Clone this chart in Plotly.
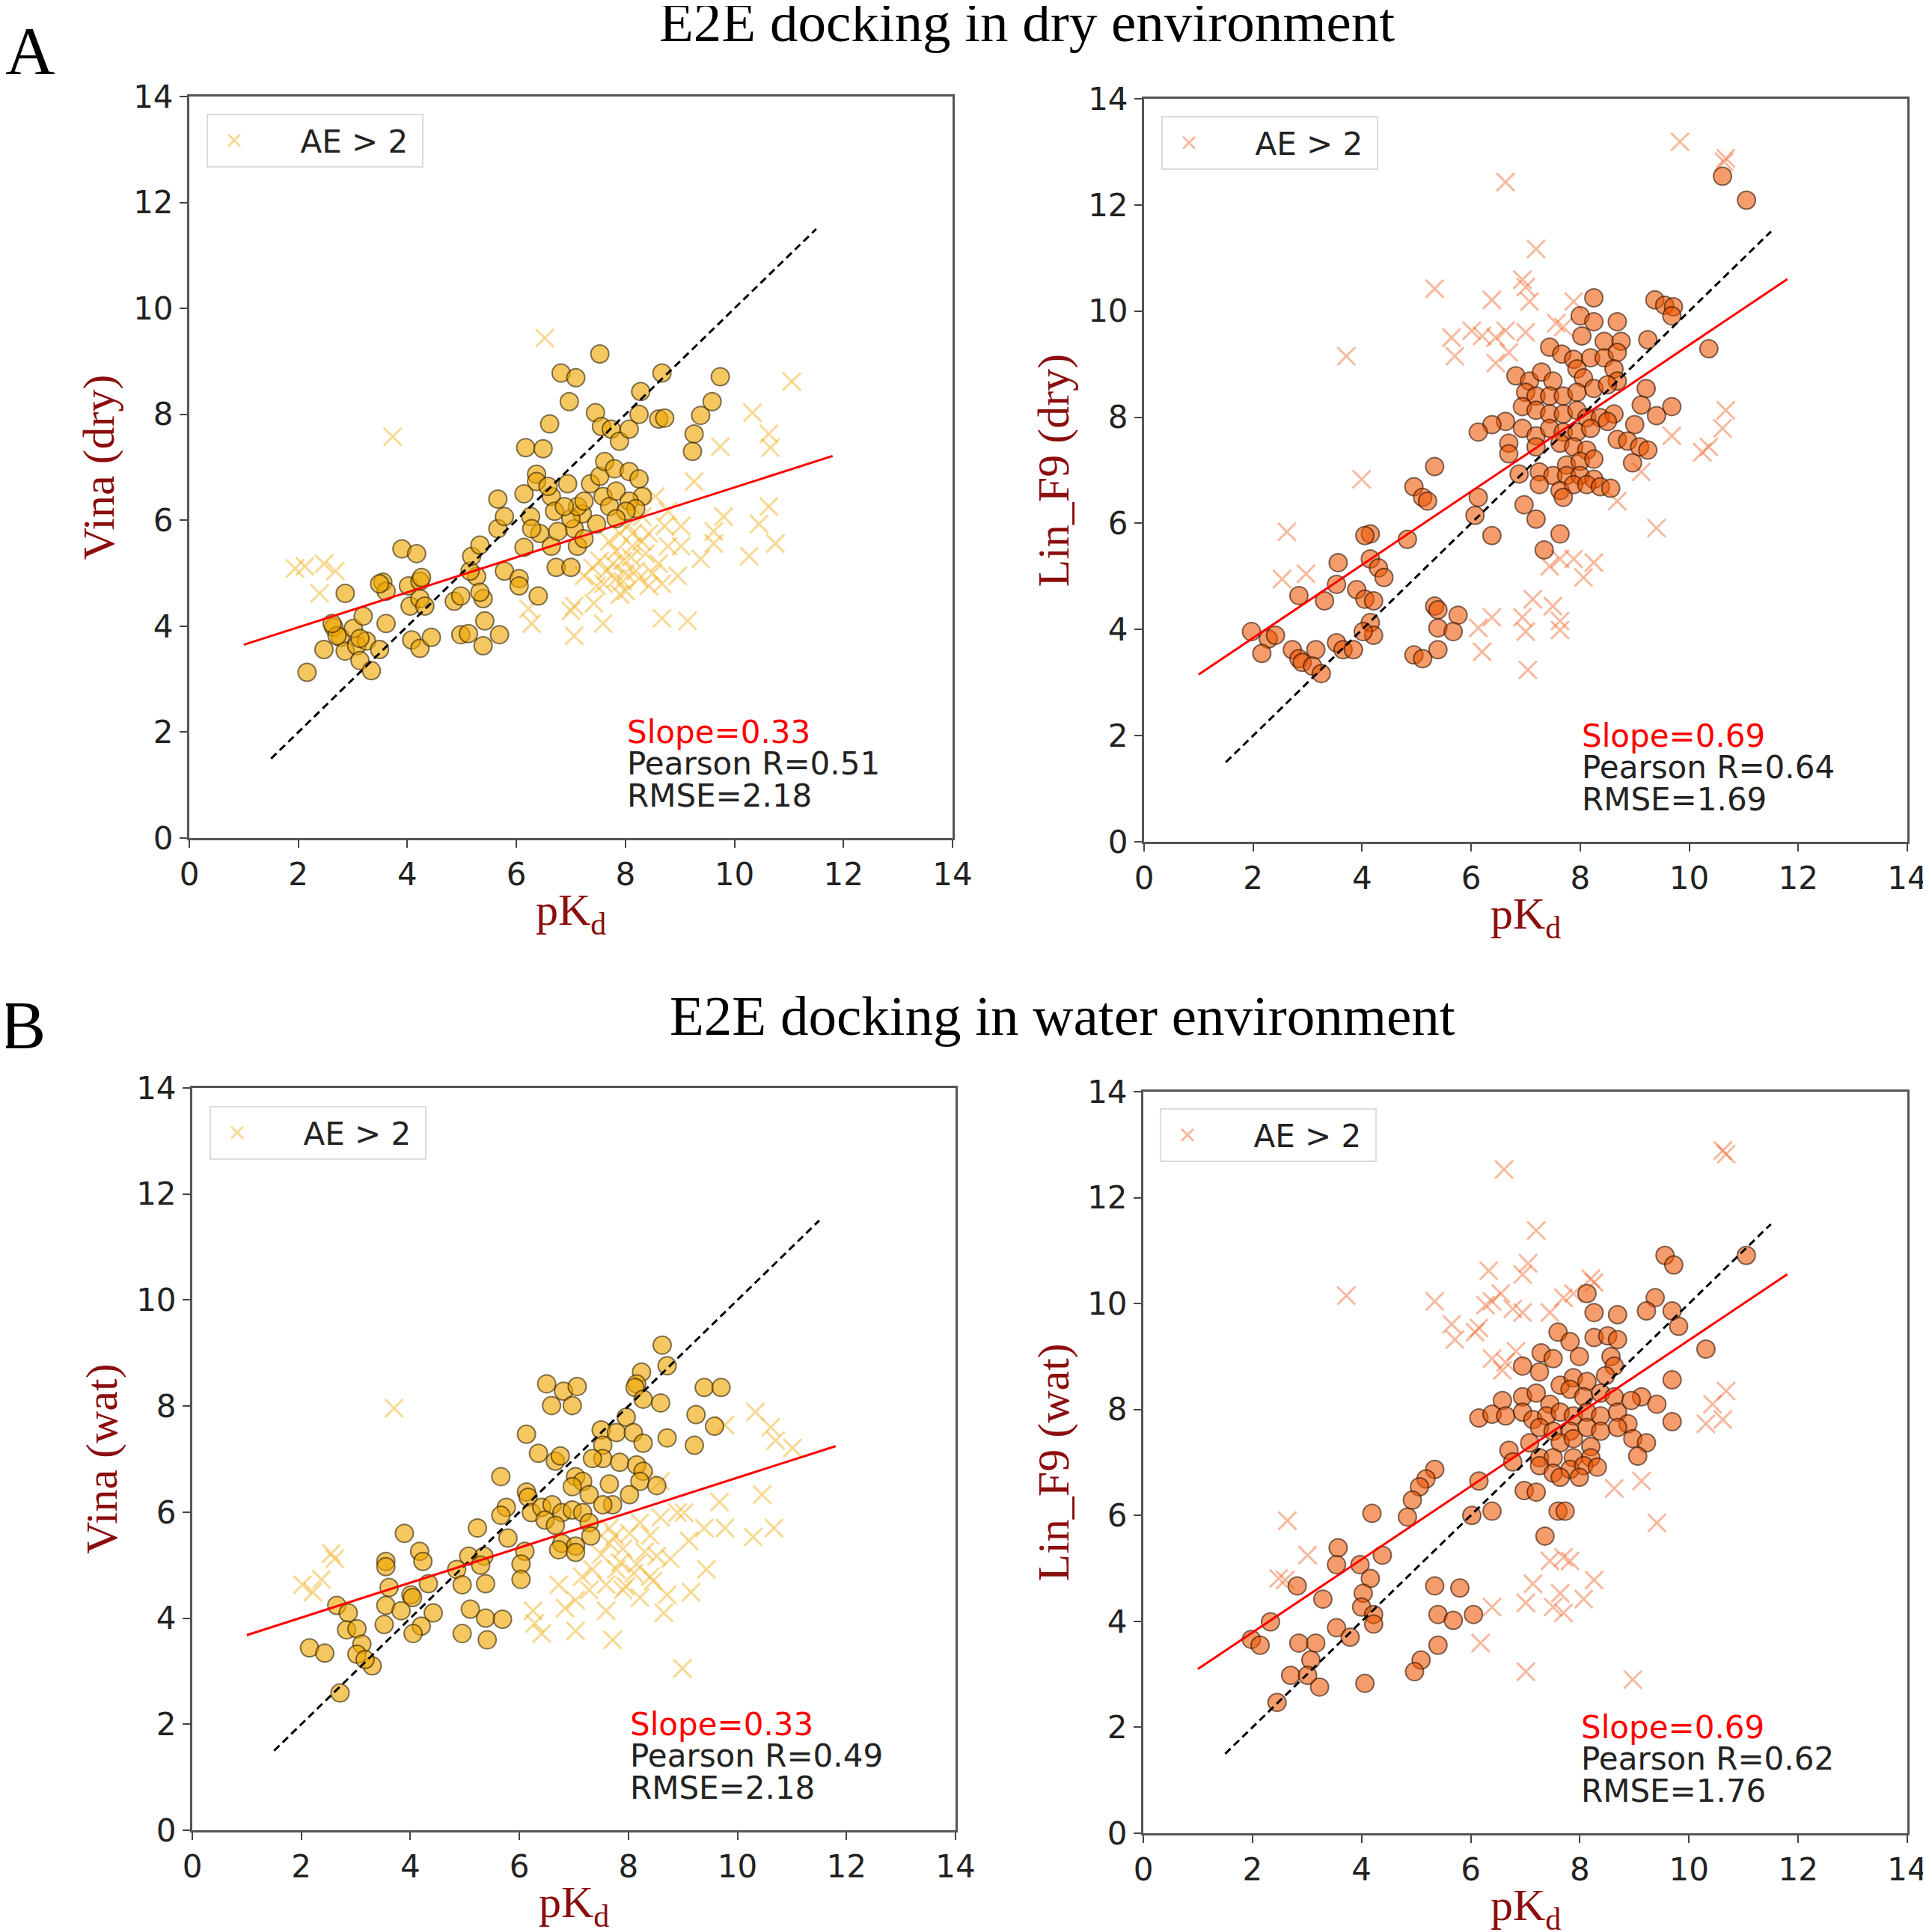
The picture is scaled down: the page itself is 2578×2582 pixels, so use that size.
import plotly.graph_objects as go

# the page body adds an 8px margin, so the figure is drawn 8px in from the corner
PAGE_W, PAGE_H = 2578, 2582
OFF = 8
W, H = PAGE_W - OFF, PAGE_H - OFF

# ---------------- data ----------------
# panel A, Vina (dry): points with AE <= 2 (circles) and AE > 2 (crosses)
vina_dry_x = [2.16, 2.47, 2.65, 2.77, 2.86, 2.86, 3.01, 3.07, 3.13, 3.25, 3.34, 3.49, 3.55, 3.61, 3.61,
              3.90, 4.17, 4.02, 4.23, 4.05, 4.23, 4.08, 4.23, 4.44, 4.32, 4.86, 4.98, 4.98, 5.12, 5.39,
              5.42, 5.39, 5.69, 5.27, 5.15, 5.18, 5.33, 5.78, 6.05, 6.05, 6.40, 5.66, 5.66, 5.78, 6.14,
              6.14, 6.26, 6.37, 6.37, 6.17, 6.49, 6.61, 6.43, 6.64, 6.70, 6.64, 6.73, 7.00, 6.94, 6.97,
              6.82, 7.09, 7.53, 7.45, 7.56, 7.06, 7.12, 7.21, 7.00, 7.36, 7.53, 7.62, 7.80, 7.59, 7.71,
              7.83, 8.07, 8.25, 8.31, 8.07, 7.74, 7.89, 8.07, 8.25, 8.28, 8.67, 8.61, 8.72, 9.74, 9.59,
              9.38, 9.26, 9.23, 8.19, 8.01, 7.83, 7.47, 7.24, 7.12, 6.88, 6.76, 3.49, 3.19, 3.13, 2.71,
              2.62, 4.26, 5.33, 6.28, 6.58, 7.24]
vina_dry_y = [3.13, 3.56, 3.98, 3.79, 4.62, 3.53, 3.96, 3.63, 3.35, 3.72, 3.16, 3.56, 4.83, 4.66, 4.05,
              5.46, 5.37, 4.76, 4.85, 4.38, 4.52, 3.74, 3.58, 3.79, 4.38, 4.47, 4.57, 3.84, 3.86, 4.52,
              4.10, 3.63, 3.84, 4.94, 5.04, 5.32, 5.53, 5.04, 4.90, 4.76, 4.57, 5.84, 6.40, 6.07, 6.50,
              5.49, 6.07, 6.87, 6.73, 7.37, 7.35, 7.82, 5.75, 6.45, 6.17, 5.51, 5.11, 5.11, 6.69, 8.24,
              8.78, 8.69, 9.14, 8.03, 7.77, 5.84, 5.51, 6.12, 6.03, 6.69, 6.83, 7.11, 6.97, 6.45, 6.26,
              6.55, 6.92, 6.78, 6.45, 6.36, 7.72, 7.49, 7.72, 8.00, 8.43, 8.78, 7.91, 7.93, 8.71, 8.24,
              7.98, 7.63, 7.30, 6.22, 6.17, 6.03, 5.93, 5.65, 6.26, 6.26, 5.79, 4.80, 4.19, 3.77, 3.82,
              4.05, 4.92, 4.64, 5.84, 6.64, 6.36]
vina_dry_ae_x = [6.52, 3.73, 11.05, 10.33, 10.63, 10.66, 9.74, 9.26, 10.63, 10.45, 10.75, 10.27, 9.80,
                 9.62, 9.62, 9.38, 9.02, 8.96, 9.14, 8.67, 8.67, 8.43, 8.19, 8.01, 7.83, 7.65, 7.47, 7.24,
                 7.06, 7.06, 7.00, 7.59, 7.42, 6.28, 6.22, 7.83, 8.13, 8.43, 8.72, 9.02, 8.55, 8.78, 8.31,
                 8.13, 8.61, 8.78, 8.37, 7.77, 7.53, 7.95, 8.25, 7.95, 2.12, 2.47, 2.68, 2.39, 1.94, 7.70,
                 8.00, 7.90, 8.10, 7.60, 8.30, 8.50, 7.40, 7.90, 8.05]
vina_dry_ae_y = [9.44, 7.58, 8.62, 8.03, 7.63, 7.37, 7.39, 6.73, 6.26, 5.93, 5.56, 5.32, 6.07, 5.79,
                 5.56, 5.27, 5.51, 4.95, 4.10, 4.15, 4.80, 4.76, 5.04, 4.66, 4.90, 5.04, 4.76, 4.95, 4.38,
                 3.82, 4.29, 4.05, 4.43, 4.05, 4.33, 5.42, 5.51, 5.75, 5.89, 5.89, 6.45, 6.17, 6.07, 5.75,
                 5.18, 5.51, 5.37, 5.18, 5.23, 5.23, 4.90, 4.85, 5.13, 5.18, 5.04, 4.62, 5.09, 5.60, 5.00,
                 4.60, 5.30, 4.80, 5.60, 5.00, 5.10, 5.75, 5.90]

# panel A, Lin_F9 (dry)
linf9_dry_x = [10.61, 11.05, 8.25, 9.37, 9.55, 9.71, 9.68, 8.00, 8.25, 8.68, 8.03, 8.44, 8.75, 9.24,
               10.36, 7.44, 7.66, 7.88, 8.19, 8.44, 8.68, 6.82, 7.07, 7.29, 7.50, 7.94, 8.06, 8.62, 8.68,
               7.00, 7.19, 7.44, 7.69, 7.94, 8.25, 8.50, 9.21, 9.12, 9.68, 9.40, 6.94, 7.19, 7.44, 7.69,
               7.94, 8.12, 8.37, 8.62, 6.63, 6.38, 6.13, 6.94, 7.19, 7.44, 7.69, 7.94, 8.19, 8.50, 9.00,
               8.68, 8.87, 9.09, 9.24, 8.96, 6.69, 6.69, 7.19, 7.63, 7.88, 8.12, 7.75, 8.00, 8.25, 7.25,
               7.50, 7.75, 8.00, 8.25, 7.25, 7.63, 7.88, 8.12, 8.37, 8.56, 7.69, 6.88, 6.13, 5.33, 4.95,
               5.11, 5.20, 6.07, 6.38, 6.97, 7.19, 7.63, 7.34, 4.15, 4.05, 4.83, 3.56, 4.15, 4.30, 4.40,
               3.53, 3.90, 4.05, 4.21, 2.84, 3.31, 4.15, 4.21, 4.02, 5.33, 5.39, 5.76, 5.39, 5.67, 5.39,
               4.95, 5.11, 1.97, 2.28, 2.41, 2.16, 2.72, 2.84, 2.90, 3.15, 3.09, 3.25, 3.53, 3.65, 3.84]
linf9_dry_y = [12.54, 12.09, 10.25, 10.21, 10.11, 10.08, 9.91, 9.91, 9.80, 9.80, 9.53, 9.43, 9.43, 9.46,
               9.29, 9.32, 9.19, 9.09, 9.12, 9.12, 9.22, 8.78, 8.68, 8.85, 8.68, 8.91, 8.74, 8.91, 8.68,
               8.47, 8.40, 8.40, 8.40, 8.47, 8.54, 8.61, 8.54, 8.23, 8.20, 8.03, 8.20, 8.13, 8.06, 8.06,
               8.13, 7.99, 7.99, 8.06, 7.92, 7.86, 7.72, 7.79, 7.65, 7.79, 7.72, 7.72, 7.79, 7.92, 7.86,
               7.58, 7.55, 7.44, 7.38, 7.14, 7.51, 7.31, 7.44, 7.51, 7.44, 7.38, 7.10, 7.17, 7.21, 6.97,
               6.90, 6.90, 6.90, 6.83, 6.73, 6.62, 6.73, 6.73, 6.69, 6.66, 6.49, 6.93, 6.49, 7.07, 6.69,
               6.49, 6.42, 6.15, 5.77, 6.35, 6.08, 5.80, 5.50, 5.80, 5.77, 5.70, 5.26, 5.33, 5.16, 4.98,
               4.85, 4.75, 4.57, 4.54, 4.64, 4.54, 4.13, 3.89, 3.96, 4.44, 4.37, 4.27, 4.03, 3.96, 3.62,
               3.52, 3.45, 3.96, 3.82, 3.89, 3.55, 3.62, 3.45, 3.38, 3.62, 3.31, 3.17, 3.75, 3.62, 3.62]
linf9_dry_ae_x = [9.83, 10.67, 10.64, 6.63, 7.19, 5.33, 6.94, 7.00, 6.38, 7.07, 7.88, 5.64, 5.70, 6.01,
                  6.20, 6.45, 6.63, 7.00, 6.45, 6.69, 3.71, 7.56, 7.69, 10.67, 10.61, 10.36, 10.24, 9.68,
                  9.12, 8.68, 9.40, 3.99, 2.62, 2.53, 2.97, 7.44, 7.63, 7.88, 8.25, 8.06, 7.13, 6.94, 7.00,
                  7.50, 7.63, 7.63, 6.38, 6.13, 6.20, 7.04]
linf9_dry_ae_y = [13.19, 12.88, 12.81, 12.43, 11.17, 10.42, 10.59, 10.45, 10.21, 10.18, 10.18, 9.50,
                  9.15, 9.63, 9.53, 9.50, 9.63, 9.60, 9.02, 9.22, 9.15, 9.77, 9.70, 8.13, 7.79, 7.44,
                  7.34, 7.65, 6.97, 6.42, 5.91, 6.83, 5.84, 4.95, 5.05, 5.19, 5.33, 5.33, 5.26, 4.98,
                  4.57, 4.23, 3.96, 4.44, 4.16, 3.99, 4.23, 4.03, 3.58, 3.24]

# panel B, Vina (wat)
vina_wat_x = [8.62, 8.71, 8.24, 8.15, 8.12, 8.27, 8.59, 6.50, 6.81, 7.06, 6.59, 6.97, 9.39, 9.70, 9.24,
              9.58, 8.71, 9.21, 7.96, 7.50, 7.78, 8.09, 8.27, 6.13, 7.53, 7.53, 7.84, 8.15, 8.27, 8.21,
              8.52, 6.35, 6.66, 6.75, 7.34, 5.66, 7.03, 7.16, 7.65, 6.13, 6.16, 6.97, 7.28, 8.02, 7.71,
              7.53, 5.76, 5.66, 6.22, 6.41, 6.60, 6.78, 6.97, 7.16, 6.47, 6.66, 7.28, 5.23, 5.79, 6.78,
              7.03, 7.31, 6.72, 7.03, 6.10, 6.03, 6.03, 3.89, 4.17, 4.23, 3.55, 3.55, 5.07, 5.35, 5.29,
              4.85, 4.95, 5.38, 4.33, 3.61, 4.01, 4.04, 3.55, 3.83, 4.42, 4.20, 4.05, 3.52, 5.10, 5.38,
              5.69, 4.95, 5.41, 2.65, 2.86, 2.83, 3.02, 3.11, 3.02, 3.30, 3.17, 2.15, 2.43, 2.71]
vina_wat_y = [9.15, 8.76, 8.64, 8.42, 8.35, 8.13, 8.06, 8.42, 8.28, 8.37, 8.01, 8.01, 8.35, 8.35, 7.84,
              7.62, 7.40, 7.26, 7.79, 7.55, 7.50, 7.50, 7.30, 7.47, 7.26, 7.01, 6.94, 6.89, 6.77, 6.58,
              6.50, 7.11, 6.96, 7.06, 7.01, 6.67, 6.67, 6.58, 6.53, 6.38, 6.28, 6.48, 6.33, 6.33, 6.14,
              6.14, 6.09, 5.94, 5.99, 6.09, 6.14, 5.99, 6.04, 5.99, 5.85, 5.75, 5.80, 5.70, 5.51, 5.41,
              5.36, 5.55, 5.29, 5.24, 5.26, 5.02, 4.73, 5.60, 5.26, 5.07, 5.07, 4.97, 5.17, 5.17, 5.00,
              4.92, 4.63, 4.65, 4.65, 4.58, 4.44, 4.39, 4.24, 4.14, 4.10, 3.85, 3.71, 3.88, 4.17, 4.00,
              3.98, 3.71, 3.59, 4.24, 4.10, 3.78, 3.80, 3.51, 3.32, 3.10, 3.22, 3.44, 3.34, 2.59]
vina_wat_ae_x = [3.70, 10.33, 10.61, 10.70, 11.01, 9.77, 10.45, 9.67, 10.67, 10.29, 9.77, 9.39, 9.11,
                 8.90, 8.59, 9.43, 9.15, 8.71, 8.65, 8.40, 8.15, 7.90, 7.65, 7.78, 7.59, 7.34, 7.15, 7.90,
                 8.21, 8.40, 8.52, 8.77, 8.21, 8.02, 7.65, 8.59, 9.02, 7.28, 7.03, 6.72, 7.59, 6.84, 6.25,
                 6.28, 6.41, 7.03, 7.71, 8.99, 2.61, 2.55, 2.37, 2.02, 2.21, 7.85, 8.10, 7.75, 8.30, 7.95,
                 7.50, 8.45]
vina_wat_ae_y = [7.96, 7.89, 7.60, 7.35, 7.21, 7.64, 6.33, 6.19, 5.70, 5.53, 5.70, 5.70, 5.46, 5.99,
                 6.58, 4.92, 4.49, 4.44, 4.10, 4.78, 5.02, 5.31, 5.41, 4.92, 4.63, 4.92, 4.78, 4.53, 4.39,
                 5.56, 5.17, 5.12, 5.80, 5.60, 5.70, 5.90, 5.99, 4.53, 4.34, 4.63, 4.14, 4.19, 4.14, 3.90,
                 3.71, 3.76, 3.59, 3.05, 5.12, 5.22, 4.73, 4.63, 4.49, 5.05, 4.85, 5.55, 5.25, 4.60, 5.20,
                 4.70]

# panel B, Lin_F9 (wat)
linf9_wat_x = [9.56, 9.72, 11.05, 8.13, 8.26, 8.69, 9.38, 9.22, 9.69, 9.81, 10.31, 7.60, 7.82, 8.26,
               8.51, 8.69, 7.29, 7.51, 7.99, 8.57, 6.95, 7.26, 8.63, 9.69, 7.64, 7.88, 8.13, 8.47, 6.95,
               7.20, 7.45, 7.82, 8.07, 8.38, 8.63, 9.13, 9.41, 6.58, 6.15, 6.39, 6.64, 6.95, 7.14, 7.39,
               7.64, 7.88, 8.13, 8.38, 8.69, 8.88, 9.69, 8.94, 7.26, 7.51, 7.82, 8.13, 8.38, 8.69, 7.08,
               7.64, 7.88, 8.20, 8.97, 9.22, 9.06, 6.70, 6.77, 7.26, 7.51, 7.88, 8.20, 7.26, 7.51, 7.82,
               8.07, 8.32, 7.64, 7.99, 5.34, 5.18, 5.06, 4.93, 6.15, 6.98, 7.20, 7.60, 7.73, 6.02, 6.39,
               4.19, 4.84, 7.36, 3.57, 4.38, 3.54, 3.97, 4.16, 4.03, 2.82, 3.29, 4.00, 4.22, 4.22, 3.54,
               3.79, 2.33, 1.98, 2.14, 2.85, 3.16, 3.07, 2.70, 3.01, 3.23, 2.45, 4.06, 5.34, 5.80, 5.40,
               5.68, 6.05, 5.40, 5.09, 4.97]
linf9_wat_y = [10.91, 10.73, 10.91, 10.19, 9.83, 9.79, 10.11, 9.86, 9.86, 9.57, 9.14, 9.46, 9.28, 9.36,
               9.39, 9.32, 9.07, 8.96, 9.00, 9.00, 8.82, 8.71, 8.82, 8.56, 8.46, 8.60, 8.53, 8.64, 8.24,
               8.31, 8.10, 8.38, 8.24, 8.31, 8.24, 8.24, 8.10, 8.17, 7.84, 7.91, 7.88, 7.95, 7.81, 7.88,
               7.95, 7.88, 7.95, 7.88, 7.95, 7.73, 7.77, 8.17, 7.66, 7.59, 7.59, 7.66, 7.59, 7.66, 7.37,
               7.37, 7.45, 7.30, 7.45, 7.37, 7.12, 7.23, 7.01, 7.09, 7.09, 7.09, 7.09, 6.94, 6.80, 6.87,
               6.94, 6.91, 6.72, 6.72, 6.87, 6.69, 6.54, 6.29, 6.65, 6.47, 6.44, 6.08, 6.08, 6.00, 6.08,
               6.04, 5.97, 5.61, 5.39, 5.25, 5.07, 5.07, 4.81, 4.53, 4.67, 4.42, 4.27, 4.13, 3.95, 3.88,
               3.70, 3.99, 3.66, 3.55, 3.59, 3.59, 3.27, 2.98, 2.98, 2.76, 2.47, 2.83, 4.67, 4.63, 4.13,
               4.02, 4.13, 3.55, 3.27, 3.05]
linf9_wat_ae_x = [10.62, 10.68, 6.61, 7.20, 3.72, 5.34, 6.33, 7.05, 6.95, 6.55, 6.39, 6.27, 6.77, 6.95,
                  5.65, 5.71, 6.08, 6.15, 6.39, 6.64, 6.83, 6.58, 7.45, 7.70, 7.88, 8.26, 8.20, 10.68,
                  10.43, 10.62, 10.31, 9.13, 8.63, 9.41, 2.64, 3.01, 2.48, 2.60, 7.45, 7.70, 7.82, 7.64,
                  8.26, 8.07, 7.14, 7.01, 7.51, 7.70, 6.39, 6.18, 7.01, 8.97]
linf9_wat_ae_y = [12.89, 12.82, 12.53, 11.38, 10.15, 10.04, 10.62, 10.76, 10.55, 10.19, 10.04, 9.97,
                  9.90, 9.83, 9.61, 9.32, 9.46, 9.54, 8.96, 8.89, 9.10, 8.74, 9.83, 10.11, 10.19, 10.40,
                  10.47, 8.35, 8.10, 7.81, 7.73, 6.65, 6.51, 5.86, 5.90, 5.25, 4.81, 4.78, 5.14, 5.21,
                  5.14, 4.53, 4.78, 4.42, 4.71, 4.35, 4.27, 4.16, 4.27, 3.59, 3.05, 2.90]

y_titles = ["Vina (dry)", "Lin_F9 (dry)", "Vina (wat)", "Lin_F9 (wat)"]
slopes = [0.33, 0.69, 0.33, 0.69]
intercepts = [3.32, 2.46, 3.35, 2.41]
pearson = [0.51, 0.64, 0.49, 0.62]
rmse = [2.18, 1.69, 2.18, 1.76]
fit_x = [1.0, 11.8]
ident_x = [1.5, 11.5]
tick_vals = [0, 2, 4, 6, 8, 10, 12, 14]

points = [
    (vina_dry_x, vina_dry_y, vina_dry_ae_x, vina_dry_ae_y),
    (linf9_dry_x, linf9_dry_y, linf9_dry_ae_x, linf9_dry_ae_y),
    (vina_wat_x, vina_wat_y, vina_wat_ae_x, vina_wat_ae_y),
    (linf9_wat_x, linf9_wat_y, linf9_wat_ae_x, linf9_wat_ae_y),
]

# ---------------- styling ----------------
# plot boxes in page pixels: left, right, top, bottom
boxes = [(253, 1273, 129, 1120), (1529, 2549, 132, 1125),
         (257, 1277, 1454, 2446), (1528, 2549, 1459, 2450)]
legend_pos = [(276, 152), (1552, 155), (280, 1478), (1550, 1481)]
gold = dict(fill="rgba(238,165,0,0.62)", edge="rgba(45,30,0,0.6)", cross="rgba(242,180,40,0.5)")
orange = dict(fill="rgba(236,84,0,0.58)", edge="rgba(45,15,0,0.6)", cross="rgba(238,100,40,0.45)")
palettes = [gold, orange, gold, orange]

TICK_FONT = dict(family="DejaVu Sans", size=42, color="#222")
SERIF = "Liberation Serif"
LABEL_COLOR = "#8b0d0d"
NBSP = "\u00a0"


def px(x):
    return (x - OFF) / W


def py(y):
    return 1 - (y - OFF) / H


fig = go.Figure()
annotations = []

for i, (xs, ys, ax_, ay_) in enumerate(points):
    n = "" if i == 0 else str(i + 1)
    xa, ya = "x" + n, "y" + n
    pal = palettes[i]
    leg = "legend" + n

    fig.add_trace(go.Scatter(
        x=ax_, y=ay_, mode="markers", xaxis=xa, yaxis=ya, name=NBSP * 4 + "AE > 2" + NBSP, legend=leg,
        marker=dict(symbol="x-thin", size=24, line=dict(width=3, color=pal["cross"])),
    ))
    fig.add_trace(go.Scatter(
        x=xs, y=ys, mode="markers", xaxis=xa, yaxis=ya, showlegend=False,
        marker=dict(symbol="circle", size=24, color=pal["fill"],
                    line=dict(width=2, color=pal["edge"])),
    ))
    fig.add_trace(go.Scatter(
        x=ident_x, y=ident_x, mode="lines", xaxis=xa, yaxis=ya, showlegend=False,
        line=dict(color="black", width=3, dash="10px,6px"),
    ))
    fig.add_trace(go.Scatter(
        x=fit_x, y=[intercepts[i] + slopes[i] * v for v in fit_x], mode="lines",
        xaxis=xa, yaxis=ya, showlegend=False, line=dict(color="red", width=3),
    ))

    l, r, t, b = boxes[i]
    axis_common = dict(range=[0, 14], tickvals=tick_vals, ticks="outside", ticklen=10, tickwidth=2,
                       tickcolor="#444", showline=True, linecolor="#555", linewidth=3, mirror=True,
                       showgrid=False, zeroline=False, tickfont=TICK_FONT, fixedrange=True,
                       automargin=False, ticklabeloverflow="allow")
    fig.update_layout({
        "xaxis" + n: dict(domain=[px(l), px(r)], anchor=ya, **axis_common),
        "yaxis" + n: dict(domain=[py(b), py(t)], anchor=xa, **axis_common),
    })

    lx, ly = legend_pos[i]
    fig.update_layout({leg: dict(
        x=px(lx), y=py(ly), xanchor="left", yanchor="top", bgcolor="white",
        bordercolor="#dcdcdc", borderwidth=2, font=dict(family="DejaVu Sans", size=42, color="#222"),
        itemwidth=60,
    )})

    # stats text
    stats = [(f"Slope={slopes[i]:.2f}", "red", 2.0),
             (f"Pearson R={pearson[i]:.2f}", "#222", 1.4),
             (f"RMSE={rmse[i]:.2f}", "#222", 0.8)]
    for txt, col, yy in stats:
        annotations.append(dict(x=8.0, y=yy, xref=xa, yref=ya, text=txt, showarrow=False,
                                xanchor="left", yanchor="middle",
                                font=dict(family="DejaVu Sans", size=42, color=col)))

    # axis titles
    annotations.append(dict(x=px((l + r) / 2), y=py(b + 100), xref="paper", yref="paper",
                            text="pK<sub>d</sub>", showarrow=False, xanchor="center", yanchor="middle",
                            font=dict(family=SERIF, size=60, color=LABEL_COLOR)))
    annotations.append(dict(x=px(l - 121), y=py((t + b) / 2), xref="paper", yref="paper",
                            text=y_titles[i], showarrow=False, textangle=-90,
                            xanchor="center", yanchor="middle",
                            font=dict(family=SERIF, size=60, color=LABEL_COLOR)))

# panel titles and letters
annotations += [
    dict(x=px(1372), y=py(30), xref="paper", yref="paper", text="E2E docking in dry environment",
         showarrow=False, xanchor="center", yanchor="middle", font=dict(family=SERIF, size=75, color="black")),
    dict(x=px(1420), y=py(1357), xref="paper", yref="paper", text="E2E docking in water environment",
         showarrow=False, xanchor="center", yanchor="middle", font=dict(family=SERIF, size=75, color="black")),
    dict(x=px(40), y=py(68), xref="paper", yref="paper", text="A", showarrow=False,
         xanchor="center", yanchor="middle", font=dict(family=SERIF, size=92, color="black")),
    dict(x=px(30), y=py(1370), xref="paper", yref="paper", text="B", showarrow=False,
         xanchor="center", yanchor="middle", font=dict(family=SERIF, size=92, color="black")),
]

fig.update_layout(
    width=W, height=H, margin=dict(l=0, r=0, t=0, b=0, autoexpand=False),
    paper_bgcolor="white", plot_bgcolor="white",
    annotations=annotations,
)

fig.write_html("out.html")
